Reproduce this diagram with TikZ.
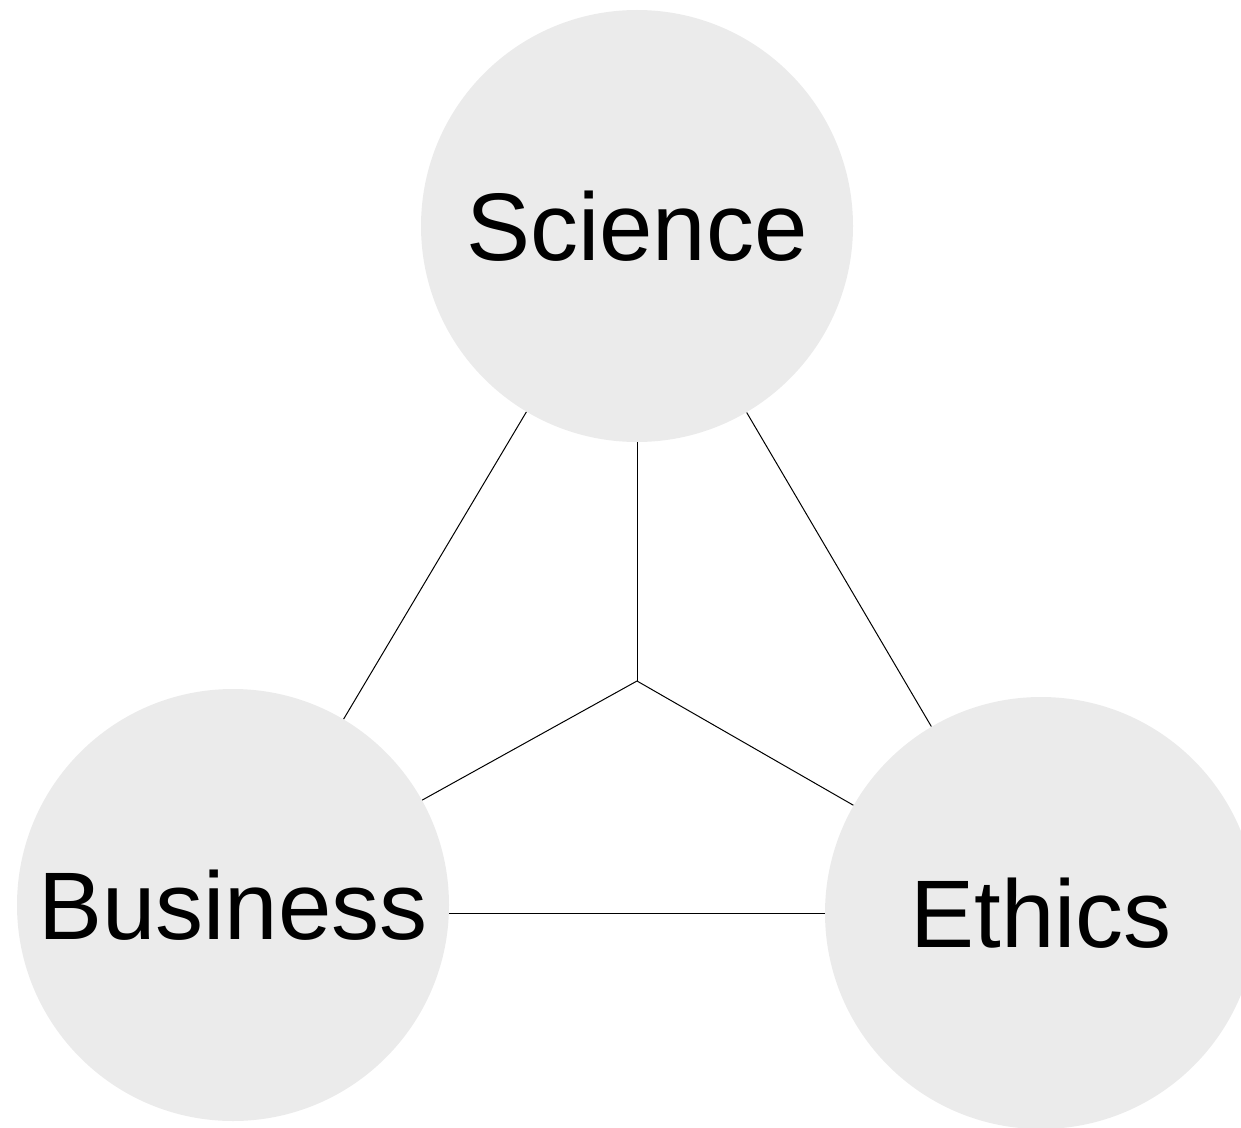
\documentclass[tikz,border=0pt]{standalone}
\usepackage{fontspec}
\setmainfont{Liberation Sans}
\definecolor{discfill}{HTML}{EBEBEB}
\tikzset{
  disc/.style={circle, fill=discfill, draw=none, inner sep=0pt, minimum size=216pt,
    font=\fontsize{48}{58}\selectfont, text=black},
  link/.style={draw=black, line width=0.5pt}
}
\begin{document}
\begin{tikzpicture}[x=0.5pt, y=-0.5pt]
\useasboundingbox (0,0) rectangle (1241,1128);
\clip (0,0) rectangle (1241,1128);
\node[disc] (sci) at (637,226) {Science};
\node[disc] (bus) at (233,905) {Business};
\node[disc] (eth) at (1041,913) {Ethics};
\coordinate (j) at (637,681);
\draw[link] (sci) -- (bus);
\draw[link] (sci) -- (eth);
\draw[link] (sci) -- (j);
\draw[link] (j) -- (bus);
\draw[link] (j) -- (eth);
\draw[link] (eth) -- (eth -| bus.east);
\end{tikzpicture}
\end{document}
